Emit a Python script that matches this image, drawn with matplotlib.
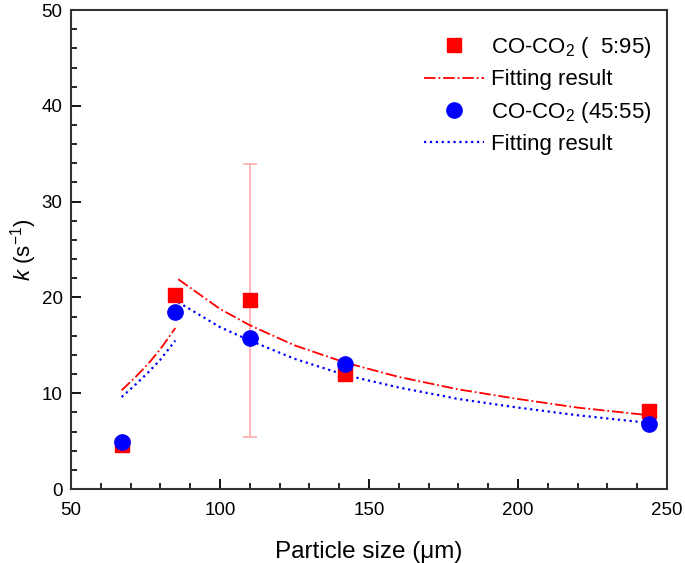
import matplotlib
matplotlib.use("Agg")
import matplotlib.pyplot as plt
from matplotlib.ticker import MultipleLocator

plt.rcParams["font.family"] = ["Liberation Sans", "DejaVu Sans"]
plt.rcParams["mathtext.fontset"] = "custom"
plt.rcParams["mathtext.rm"] = "Liberation Sans"
plt.rcParams["mathtext.it"] = "Liberation Sans:italic"

# measured points
size = [67, 85, 110, 142, 244]
k_595 = [4.6, 20.3, 19.7, 12.0, 8.1]
k_4555 = [4.9, 18.5, 15.8, 13.1, 6.8]
err_x = [110]
err_y = [19.7]
err_lo = [14.3]
err_hi = [14.2]

# fitting curves (two branches)
fit_x1 = [67, 72, 76, 80, 85]
fit_595_1 = [10.3, 11.8, 13.1, 14.6, 16.8]
fit_4555_1 = [9.6, 11.0, 12.2, 13.5, 15.5]
fit_x2 = [86, 100, 110, 125, 142, 160, 180, 200, 220, 244]
fit_595_2 = [21.9, 18.8, 17.1, 15.0, 13.2, 11.7, 10.4, 9.4, 8.5, 7.7]
fit_4555_2 = [19.5, 16.9, 15.5, 13.6, 11.9, 10.6, 9.4, 8.5, 7.7, 6.9]

fig = plt.figure(figsize=(6.85, 5.63), dpi=100)
ax = fig.add_axes([0.1036, 0.1314, 0.8701, 0.8508])

red = "#ff0000"
blue = "#0000ff"

ax.errorbar(err_x, err_y, yerr=[err_lo, err_hi], fmt="none", ecolor="#ffaaaa",
            elinewidth=1.2, capsize=5, capthick=1.2, zorder=2)

ax.plot(size, k_595, "s", color=red, markersize=10, label="CO-CO$_2$ (  5:95)", zorder=4)
ax.plot(fit_x1, fit_595_1, "-.", color=red, linewidth=1.3, label="Fitting result", zorder=3)
ax.plot(fit_x2, fit_595_2, "-.", color=red, linewidth=1.3, zorder=3)
ax.plot(size, k_4555, "o", color=blue, markersize=11, label="CO-CO$_2$ (45:55)", zorder=5)
ax.plot(fit_x1, fit_4555_1, ":", color=blue, linewidth=1.6, label="Fitting result", zorder=3)
ax.plot(fit_x2, fit_4555_2, ":", color=blue, linewidth=1.6, zorder=3)

ax.set_xlim(50, 250)
ax.set_ylim(0, 50)
ax.xaxis.set_major_locator(MultipleLocator(50))
ax.xaxis.set_minor_locator(MultipleLocator(10))
ax.yaxis.set_major_locator(MultipleLocator(10))
ax.yaxis.set_minor_locator(MultipleLocator(2))
ax.tick_params(which="major", direction="in", length=7, width=1.3, labelsize=13.5)
ax.tick_params(axis="x", which="major", pad=9)
ax.tick_params(axis="y", which="major", pad=6)
ax.tick_params(which="minor", direction="in", length=4, width=1.2)
for sp in ax.spines.values():
    sp.set_linewidth(1.5)
    sp.set_color("#333333")

ax.set_xlabel("Particle size (\u03bcm)", fontsize=17.5, labelpad=16)
ax.set_ylabel("$k$ (s$^{-1}$)", fontsize=16, labelpad=2)

ax.legend(loc="upper right", bbox_to_anchor=(1.0, 0.98), frameon=False, fontsize=16,
          handlelength=2.7, labelspacing=0.42, borderaxespad=0.4, borderpad=0.3,
          handletextpad=0.3)

fig.savefig("out.png", dpi=100)
